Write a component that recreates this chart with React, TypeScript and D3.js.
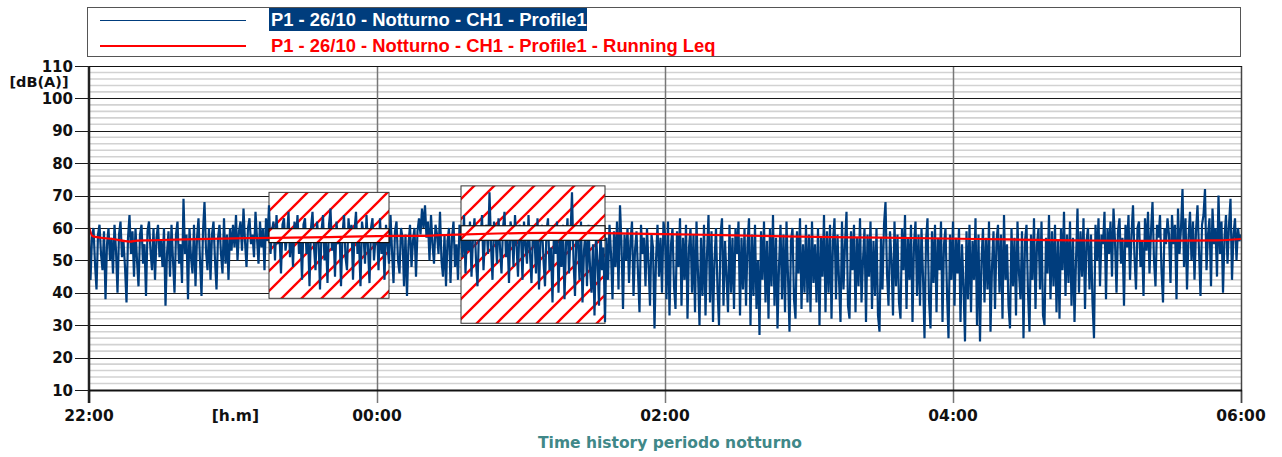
import React from "react";
import * as d3 from "d3";

// ---- data ----
const seriesName = "P1 - 26/10 - Notturno - CH1 - Profile1";
const leqName = "P1 - 26/10 - Notturno - CH1 - Profile1 - Running Leq";
const xTitle = "Time history periodo notturno";
const yUnit = "[dB(A)]";
const xUnit = "[h.m]";
const xTickLabels = ["22:00", "00:00", "02:00", "04:00", "06:00"];
const xTickHours = [0, 2, 4, 6, 8]; // hours after 22:00
const yTicks = [10, 20, 30, 40, 50, 60, 70, 80, 90, 100, 110];

// LAeq samples, one array per 30-minute block from 22:00 to 06:00
const seg2200 = [58, 44, 57, 60, 49, 41, 58, 61, 52, 47, 59, 38, 55, 60, 50, 57, 46, 61, 53, 40, 58, 62, 51, 56, 48, 37, 57, 64, 52, 59, 45, 60, 50, 42, 58, 61, 49, 55, 39, 59, 62, 53, 47, 60, 44, 57, 61, 51];
const seg2230 = [56, 48, 60, 36, 52, 59, 45, 61, 50, 40, 58, 62, 49, 55, 43, 69, 52, 58, 38, 60, 51, 46, 61, 42, 57, 63, 50, 39, 59, 68, 53, 47, 60, 44, 58, 62, 50, 41, 57, 61, 52, 46, 63, 49, 58, 44, 60, 53];
const seg2300 = [61, 54, 64, 50, 59, 62, 53, 66, 56, 48, 60, 63, 55, 58, 51, 65, 57, 49, 62, 54, 60, 47, 63, 56, 67, 52, 59, 62, 50, 64, 55, 58, 46, 61, 63, 53, 57, 65, 51, 60, 48, 62, 56, 64, 52, 59, 44, 61];
const seg2330 = [63, 52, 58, 42, 60, 65, 54, 47, 62, 57, 41, 59, 64, 50, 56, 43, 61, 66, 53, 59, 45, 62, 55, 60, 42, 58, 64, 51, 47, 63, 57, 61, 44, 59, 65, 52, 56, 42, 62, 58, 49, 64, 54, 43, 60, 63, 50, 57];
const seg0000 = [60, 47, 63, 52, 58, 44, 61, 55, 49, 64, 53, 43, 59, 62, 50, 46, 60, 57, 42, 58, 39, 55, 61, 48, 56, 60, 45, 59, 63, 58, 66, 60, 67, 57, 62, 50, 64, 55, 49, 61, 58, 52, 65, 50, 45, 58, 42, 56];
const seg0030 = [60, 43, 57, 62, 48, 55, 44, 61, 58, 51, 64, 46, 59, 53, 62, 45, 57, 63, 50, 42, 60, 56, 64, 47, 58, 61, 52, 71, 55, 44, 62, 58, 49, 63, 54, 46, 60, 65, 51, 57, 43, 62, 59, 48, 64, 55, 45, 61];
const seg0100 = [58, 44, 62, 55, 49, 64, 52, 43, 60, 57, 46, 63, 41, 56, 61, 50, 42, 59, 63, 47, 54, 37, 60, 52, 62, 40, 57, 48, 61, 38, 55, 63, 46, 58, 71, 50, 39, 60, 56, 44, 62, 37, 53, 59, 42, 61, 48, 40];
const seg0130 = [55, 33, 58, 50, 36, 60, 47, 54, 31, 57, 44, 61, 52, 38, 59, 48, 62, 41, 67, 55, 35, 58, 50, 60, 43, 56, 62, 39, 53, 59, 46, 34, 61, 52, 57, 42, 60, 49, 36, 58, 54, 29, 50, 61, 45, 57, 40, 62];
const seg0200 = [58, 38, 62, 33, 55, 60, 42, 35, 59, 48, 63, 36, 57, 44, 61, 32, 54, 60, 40, 58, 34, 62, 46, 30, 57, 39, 61, 33, 52, 64, 37, 59, 31, 50, 60, 41, 30, 58, 63, 36, 56, 45, 34, 61, 40, 57, 35, 60];
const seg0230 = [52, 62, 33, 57, 41, 60, 36, 55, 63, 30, 58, 39, 61, 35, 50, 27, 59, 44, 62, 37, 56, 32, 60, 42, 64, 36, 57, 29, 48, 61, 38, 58, 34, 62, 45, 28, 56, 60, 38, 32, 59, 46, 63, 35, 55, 40, 61, 37];
const seg0300 = [58, 34, 62, 43, 55, 37, 60, 30, 57, 45, 64, 34, 59, 40, 61, 32, 56, 63, 38, 58, 44, 31, 62, 41, 55, 65, 36, 32, 59, 47, 61, 34, 57, 42, 63, 37, 50, 60, 31, 58, 45, 62, 35, 56, 39, 60, 33, 28];
const seg0330 = [57, 41, 61, 68, 46, 36, 59, 50, 33, 62, 42, 58, 37, 32, 60, 47, 64, 35, 57, 44, 61, 31, 55, 62, 39, 58, 36, 60, 45, 26, 56, 63, 38, 29, 59, 43, 61, 34, 57, 47, 62, 31, 55, 60, 40, 26, 58, 44];
const seg0400 = [62, 36, 57, 46, 60, 31, 55, 42, 25, 59, 38, 61, 34, 56, 44, 63, 30, 58, 25, 50, 60, 37, 57, 41, 62, 28, 48, 59, 35, 56, 61, 40, 58, 32, 64, 44, 55, 36, 29, 60, 42, 57, 33, 62, 46, 38, 59, 26];
const seg0430 = [56, 61, 40, 28, 58, 44, 63, 35, 55, 60, 41, 62, 33, 30, 57, 46, 64, 38, 59, 42, 61, 34, 56, 32, 60, 47, 65, 39, 58, 43, 62, 36, 57, 31, 50, 66, 40, 59, 45, 63, 35, 56, 60, 41, 58, 37, 26, 61];
const seg0500 = [50, 63, 42, 58, 55, 65, 38, 60, 52, 62, 45, 66, 56, 40, 59, 63, 49, 57, 36, 61, 54, 64, 44, 58, 67, 51, 41, 60, 62, 48, 56, 39, 63, 53, 65, 46, 59, 68, 50, 42, 61, 57, 64, 47, 37, 60, 55, 63];
const seg0530 = [58, 43, 64, 55, 61, 38, 66, 52, 60, 72, 48, 63, 41, 57, 65, 50, 62, 44, 59, 67, 53, 39, 61, 64, 72, 47, 58, 63, 42, 66, 55, 60, 45, 70, 52, 62, 40, 57, 64, 49, 61, 69, 44, 58, 63, 50, 60, 56, 58];

// Running Leq: minutes after 22:00 and level
const leqMinutes = [0, 1.5, 5, 10, 17, 20, 25, 40, 70, 100, 120, 140, 150, 170, 190, 215, 250, 290, 330, 370, 410, 440, 470, 480];
const leqValues = [60.3, 57.5, 57.0, 56.6, 55.8, 56.1, 56.2, 56.5, 56.9, 57.2, 57.5, 57.6, 57.9, 58.3, 58.5, 58.4, 58.0, 57.4, 57.0, 56.6, 56.2, 56.0, 56.2, 56.6];

// Masked (excluded) regions: minutes after 22:00, outer level range, inner band
const maskStartMin = [75, 155];
const maskEndMin = [125, 215];
const maskTop = [71.0, 73.0];
const maskBottom = [38.3, 30.6];
const maskInnerTop = [59.8, 60.7];
const maskInnerBottom = [55.5, 56.2];

const segments = [
  seg2200, seg2230, seg2300, seg2330, seg0000, seg0030, seg0100, seg0130,
  seg0200, seg0230, seg0300, seg0330, seg0400, seg0430, seg0500, seg0530,
];

const W = 1282;
const H = 457;
const start = new Date(2023, 9, 26, 22, 0, 0);
const end = new Date(2023, 9, 27, 6, 0, 0);
const addMin = (m: number) => new Date(start.getTime() + m * 60000);

type Pt = { t: number; v: number };

export default function App() {
  const x = d3.scaleTime().domain([start, end]).range([89, 1241]);
  const y = d3.scaleLinear().domain([10, 110]).range([390, 66]);

  const points: Pt[] = [];
  segments.forEach((seg, k) => {
    const last = k === segments.length - 1;
    const n = last ? seg.length - 1 : seg.length;
    seg.forEach((v, j) => points.push({ t: 30 * k + (j * 30) / n, v }));
  });

  const dataLine = d3
    .line<Pt>()
    .x((d) => x(addMin(d.t)))
    .y((d) => y(d.v));
  const leqLine = d3
    .line<number>()
    .x((_, i) => x(addMin(leqMinutes[i])))
    .y((d) => y(d))
    .curve(d3.curveMonotoneX);

  const minor = d3.range(10, 111, 2).filter((v) => v % 10 !== 0);
  const tickFont = "'DejaVu Sans', Verdana, sans-serif";
  const legendFont = "'Liberation Sans', Arial, sans-serif";

  return (
    <svg
      width={W}
      height={H}
      style={{ position: "absolute", left: 0, top: 0, background: "#fff" }}
    >
      <defs>
        <pattern id="hatch" patternUnits="userSpaceOnUse" width={20} height={20}>
          <path d="M-5,5 L5,-5 M0,20 L20,0 M15,25 L25,15" stroke="#ff0000" strokeWidth={2.3} />
        </pattern>
        <clipPath id="plotClip">
          <rect x={89} y={66} width={1152} height={324} />
        </clipPath>
      </defs>
      <rect x={0} y={0} width={W} height={H} fill="#fff" />

      {/* Legend */}
      <rect x={87.5} y={7.5} width={1153} height={49} fill="#fff" stroke="#555" strokeWidth={1} />
      <line x1={100} x2={246} y1={20.5} y2={20.5} stroke="#003d7d" strokeWidth={1} />
      <line x1={100} x2={246} y1={46} y2={46} stroke="#ff0000" strokeWidth={2} />
      <rect x={269} y={8} width={318} height={23} fill="#003d7d" />
      <text x={271} y={26} fontFamily={legendFont} fontWeight="bold" fontSize={18.4} fill="#fff">
        {seriesName}
      </text>
      <text x={271} y={52} fontFamily={legendFont} fontWeight="bold" fontSize={18.4} fill="#ff0000">
        {leqName}
      </text>

      {/* minor grid */}
      {minor.map((v) => (
        <line key={"mn" + v} x1={89} x2={1241} y1={y(v)} y2={y(v)} stroke="#d2d2d2" strokeWidth={1.6} />
      ))}
      {/* major grid */}
      {yTicks.map((v) => (
        <line key={"mj" + v} x1={75} x2={1241} y1={Math.round(y(v)) + 0.5} y2={Math.round(y(v)) + 0.5} stroke="#1a1a1a" strokeWidth={1} />
      ))}
      {/* vertical grid */}
      {xTickHours.map((h, i) => (
        <line
          key={"vg" + i}
          x1={Math.round(x(addMin(h * 60))) + 0.5}
          x2={Math.round(x(addMin(h * 60))) + 0.5}
          y1={i === 0 || i === xTickHours.length - 1 ? 390 : 66}
          y2={403}
          stroke="#777"
          strokeWidth={1.5}
        />
      ))}

      {/* masked regions (outer) */}
      {maskStartMin.map((m, i) => {
        const x0 = x(addMin(m));
        const x1 = x(addMin(maskEndMin[i]));
        const y0 = y(maskTop[i]);
        const y1 = y(maskBottom[i]);
        return (
          <g key={"mo" + i}>
            <rect x={x0} y={y0} width={x1 - x0} height={y1 - y0} fill="#fff" />
            <rect x={x0} y={y0} width={x1 - x0} height={y1 - y0} fill="url(#hatch)" stroke="#333" strokeWidth={1} />
          </g>
        );
      })}

      {/* time history */}
      <g clipPath="url(#plotClip)">
        <path d={dataLine(points) || ""} fill="none" stroke="#003d7d" strokeWidth={2.2} strokeLinejoin="miter" />
      </g>

      {/* masked regions (inner band) */}
      {maskStartMin.map((m, i) => {
        const x0 = x(addMin(m));
        const x1 = x(addMin(maskEndMin[i]));
        const y0 = y(maskInnerTop[i]);
        const y1 = y(maskInnerBottom[i]);
        return (
          <g key={"mi" + i}>
            <rect x={x0} y={y0} width={x1 - x0} height={y1 - y0} fill="#fff" />
            <rect x={x0} y={y0} width={x1 - x0} height={y1 - y0} fill="url(#hatch)" stroke="#111" strokeWidth={1.2} />
          </g>
        );
      })}

      {/* running Leq */}
      <path d={leqLine(leqValues) || ""} fill="none" stroke="#ff0000" strokeWidth={2.2} />

      {/* frame */}
      <line x1={89} x2={89} y1={66} y2={403} stroke="#222" strokeWidth={2.5} />
      <line x1={1241.5} x2={1241.5} y1={66} y2={403} stroke="#444" strokeWidth={1.5} />
      <line x1={89} x2={1242} y1={390.5} y2={390.5} stroke="#111" strokeWidth={2} />
      <line x1={89} x2={1242} y1={66.5} y2={66.5} stroke="#111" strokeWidth={1} />

      {/* y tick labels */}
      {yTicks.map((v) => (
        <text key={"yl" + v} x={73} y={y(v) + 5.5} textAnchor="end" fontFamily={tickFont} fontWeight="bold" fontSize={15} fill="#111">
          {v}
        </text>
      ))}
      <text x={39} y={87} textAnchor="middle" fontFamily={tickFont} fontWeight="bold" fontSize={14.5} fill="#111">
        {yUnit}
      </text>

      {/* x tick labels */}
      {xTickHours.map((h, i) => (
        <text key={"xl" + i} x={x(addMin(h * 60))} y={421} textAnchor="middle" fontFamily={tickFont} fontWeight="bold" fontSize={15.5} fill="#111">
          {xTickLabels[i]}
        </text>
      ))}
      <text x={x(addMin(61))} y={421} textAnchor="middle" fontFamily={tickFont} fontWeight="bold" fontSize={15.5} fill="#111">
        {xUnit}
      </text>

      <text x={670} y={448} textAnchor="middle" fontFamily={tickFont} fontWeight="bold" fontSize={15.5} fill="#408888">
        {xTitle}
      </text>
    </svg>
  );
}
